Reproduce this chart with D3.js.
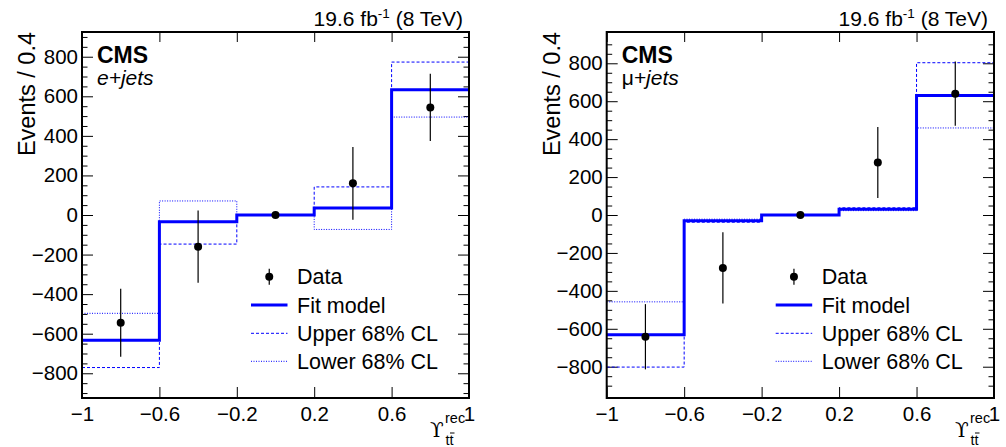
<!DOCTYPE html>
<html>
<head>
<meta charset="utf-8">
<script src="https://cdn.jsdelivr.net/npm/d3@7"></script>
<style>
  body { margin: 0; background: #fff; }
  svg { display: block; font-family: "Liberation Sans", Arial, sans-serif; }
</style>
</head>
<body>
<div id="chart"></div>
<script>
// bins of the reconstructed variable
const binEdges = [-1, -0.6, -0.2, 0.2, 0.6, 1];
const binCenters = [-0.8, -0.4, 0, 0.4, 0.8];
const xTicks = [-1, -0.6, -0.2, 0.2, 0.6, 1];
const yTicks = [-800, -600, -400, -200, 0, 200, 400, 600, 800];

// e+jets
const eData = [-545, -160, 0, 160, 544];
const eDataErr = [172, 183, 0, 184, 170];
const eFit = [-633, -34, 0, 35, 633];
const eUpper = [-771, -147, 0, 142, 773];
const eLower = [-497, 71, 0, -73, 495];

// mu+jets
const muData = [-642, -279, 0, 277, 640];
const muDataErr = [172, 188, 0, 187, 170];
const muFit = [-632, -30, 0, 30, 630];
const muUpper = [-802, -38, 0, 38, 803];
const muLower = [-458, -22, 0, 23, 459];

const legendLabels = ["Data", "Fit model", "Upper 68% CL", "Lower 68% CL"];

const W = 1006, H = 447;
const BLUE = "#0000ff";

const svg = d3.select("#chart").append("svg")
    .attr("width", W)
    .attr("height", H);

const minus = s => String(s).replace("-", "\u2212");

function drawPanel(p) {
    let x = d3.scaleLinear().domain([-1, 1]).range([p.x0, p.x1]);
    let y = d3.scaleLinear().domain([-p.ymax, p.ymax]).range([p.y1, p.y0]);

    let g = svg.append("g");

    let minor = d3.range(-900, 901, 50).filter(v => v % 200 !== 0 && Math.abs(v) < p.ymax);

    // ticks pointing inward, on all four sides
    g.append("g").attr("transform", `translate(${p.x0},0)`)
        .call(d3.axisLeft(y).tickValues(yTicks).tickSize(-11).tickPadding(4).tickFormat(minus))
        .call(a => a.select(".domain").remove())
        .call(a => a.selectAll("text").attr("font-size", 20.5).attr("fill", "#000").attr("font-family", null));
    g.append("g").attr("transform", `translate(${p.x0},0)`)
        .call(d3.axisLeft(y).tickValues(minor).tickSize(-5.5).tickFormat(""))
        .call(a => a.select(".domain").remove());
    g.append("g").attr("transform", `translate(${p.x1},0)`)
        .call(d3.axisLeft(y).tickValues(yTicks).tickSize(11).tickFormat(""))
        .call(a => a.select(".domain").remove());
    g.append("g").attr("transform", `translate(${p.x1},0)`)
        .call(d3.axisLeft(y).tickValues(minor).tickSize(5.5).tickFormat(""))
        .call(a => a.select(".domain").remove());

    g.append("g").attr("transform", `translate(0,${p.y1})`)
        .call(d3.axisBottom(x).tickValues(xTicks).tickSize(-11).tickPadding(8).tickFormat(minus))
        .call(a => a.select(".domain").remove())
        .call(a => a.selectAll("text").attr("font-size", 20.5).attr("fill", "#000").attr("font-family", null));
    g.append("g").attr("transform", `translate(0,${p.y0})`)
        .call(d3.axisTop(x).tickValues(xTicks).tickSize(-10).tickFormat(""))
        .call(a => a.select(".domain").remove());

    g.selectAll(".tick line").attr("stroke", "#000").attr("stroke-width", 1);

    // step histograms
    let stepPts = vals => binEdges.map((e, i) => [x(e), y(vals[Math.min(i, vals.length - 1)])]);
    let step = d3.line().curve(d3.curveStepAfter);

    g.append("path").attr("d", step(stepPts(p.lower)))
        .attr("fill", "none").attr("stroke", BLUE).attr("stroke-width", 1)
        .attr("stroke-dasharray", "1,1.5");
    g.append("path").attr("d", step(stepPts(p.upper)))
        .attr("fill", "none").attr("stroke", BLUE).attr("stroke-width", 1)
        .attr("stroke-dasharray", "3,2");
    g.append("path").attr("d", step(stepPts(p.fit)))
        .attr("fill", "none").attr("stroke", BLUE).attr("stroke-width", 3);

    // data points
    g.selectAll(".err").data(binCenters).join("line")
        .attr("x1", d => x(d)).attr("x2", d => x(d))
        .attr("y1", (d, i) => y(p.data[i] - p.err[i]))
        .attr("y2", (d, i) => y(p.data[i] + p.err[i]))
        .attr("stroke", "#000").attr("stroke-width", 1.2);
    g.selectAll(".pt").data(binCenters).join("circle")
        .attr("cx", d => x(d)).attr("cy", (d, i) => y(p.data[i]))
        .attr("r", 4).attr("fill", "#000");

    // frame
    g.append("rect")
        .attr("x", p.x0).attr("y", p.y0)
        .attr("width", p.x1 - p.x0).attr("height", p.y1 - p.y0)
        .attr("fill", "none").attr("stroke", "#000").attr("stroke-width", 2);

    // texts
    let title = g.append("text")
        .attr("x", p.x1 - 6).attr("y", 26)
        .attr("text-anchor", "end").attr("font-size", 21);
    title.append("tspan").text("19.6 fb");
    title.append("tspan").attr("dy", -8).attr("font-size", 13.5).text("-1");
    title.append("tspan").attr("dy", 8).text(" (8 TeV)");

    g.append("text").attr("x", p.x0 + 15).attr("y", 63)
        .attr("font-size", 23).attr("font-weight", "bold").text("CMS");
    let ch = g.append("text").attr("x", p.x0 + 15).attr("y", 85).attr("font-size", 21);
    if (p.channelUpright) ch.append("tspan").text(p.channelUpright);
    ch.append("tspan").attr("font-style", "italic").text(p.channelItalic);

    g.append("text")
        .attr("transform", `translate(${p.x0 - 47},${p.y0}) rotate(-90)`)
        .attr("text-anchor", "end").attr("font-size", 23.5)
        .text("Events / 0.4");

    // x-axis title
    g.append("text").attr("x", p.x1 - 39).attr("y", 437)
        .attr("font-family", "DejaVu Serif, serif").attr("font-size", 20)
        .text("\u03D2");
    g.append("text").attr("x", p.x1 - 24).attr("y", 423)
        .attr("font-size", 14.5).text("rec");
    g.append("text").attr("x", p.x1 - 23.5).attr("y", 445)
        .attr("font-size", 14.5).text("tt");
    g.append("line")
        .attr("x1", p.x1 - 19).attr("x2", p.x1 - 14.5)
        .attr("y1", 433).attr("y2", 433)
        .attr("stroke", "#000").attr("stroke-width", 1);

    // legend
    let lx = p.x0 + 169, lw = 36.5, tx = p.x0 + 215;
    let rowY = [276.7, 305, 333.3, 361.3];
    let lg = g.append("g");
    lg.append("line").attr("x1", lx + lw / 2).attr("x2", lx + lw / 2)
        .attr("y1", rowY[0] - 8).attr("y2", rowY[0] + 8)
        .attr("stroke", "#000").attr("stroke-width", 1.2);
    lg.append("circle").attr("cx", lx + lw / 2).attr("cy", rowY[0]).attr("r", 4).attr("fill", "#000");
    lg.append("line").attr("x1", lx).attr("x2", lx + lw).attr("y1", rowY[1]).attr("y2", rowY[1])
        .attr("stroke", BLUE).attr("stroke-width", 3);
    lg.append("line").attr("x1", lx).attr("x2", lx + lw).attr("y1", rowY[2]).attr("y2", rowY[2])
        .attr("stroke", BLUE).attr("stroke-width", 1).attr("stroke-dasharray", "3,2");
    lg.append("line").attr("x1", lx).attr("x2", lx + lw).attr("y1", rowY[3]).attr("y2", rowY[3])
        .attr("stroke", BLUE).attr("stroke-width", 1).attr("stroke-dasharray", "1,1.5");
    lg.selectAll("text").data(legendLabels).join("text")
        .attr("x", tx).attr("y", (d, i) => rowY[i] + 7.5)
        .attr("font-size", 21.5).text(d => d);
}

drawPanel({
    x0: 82, x1: 469, y0: 32, y1: 398, ymax: 925,
    data: eData, err: eDataErr, fit: eFit, upper: eUpper, lower: eLower,
    channelUpright: "", channelItalic: "e+jets"
});

drawPanel({
    x0: 606.7, x1: 994, y0: 32, y1: 398, ymax: 965,
    data: muData, err: muDataErr, fit: muFit, upper: muUpper, lower: muLower,
    channelUpright: "\u03BC", channelItalic: "+jets"
});
</script>
</body>
</html>
